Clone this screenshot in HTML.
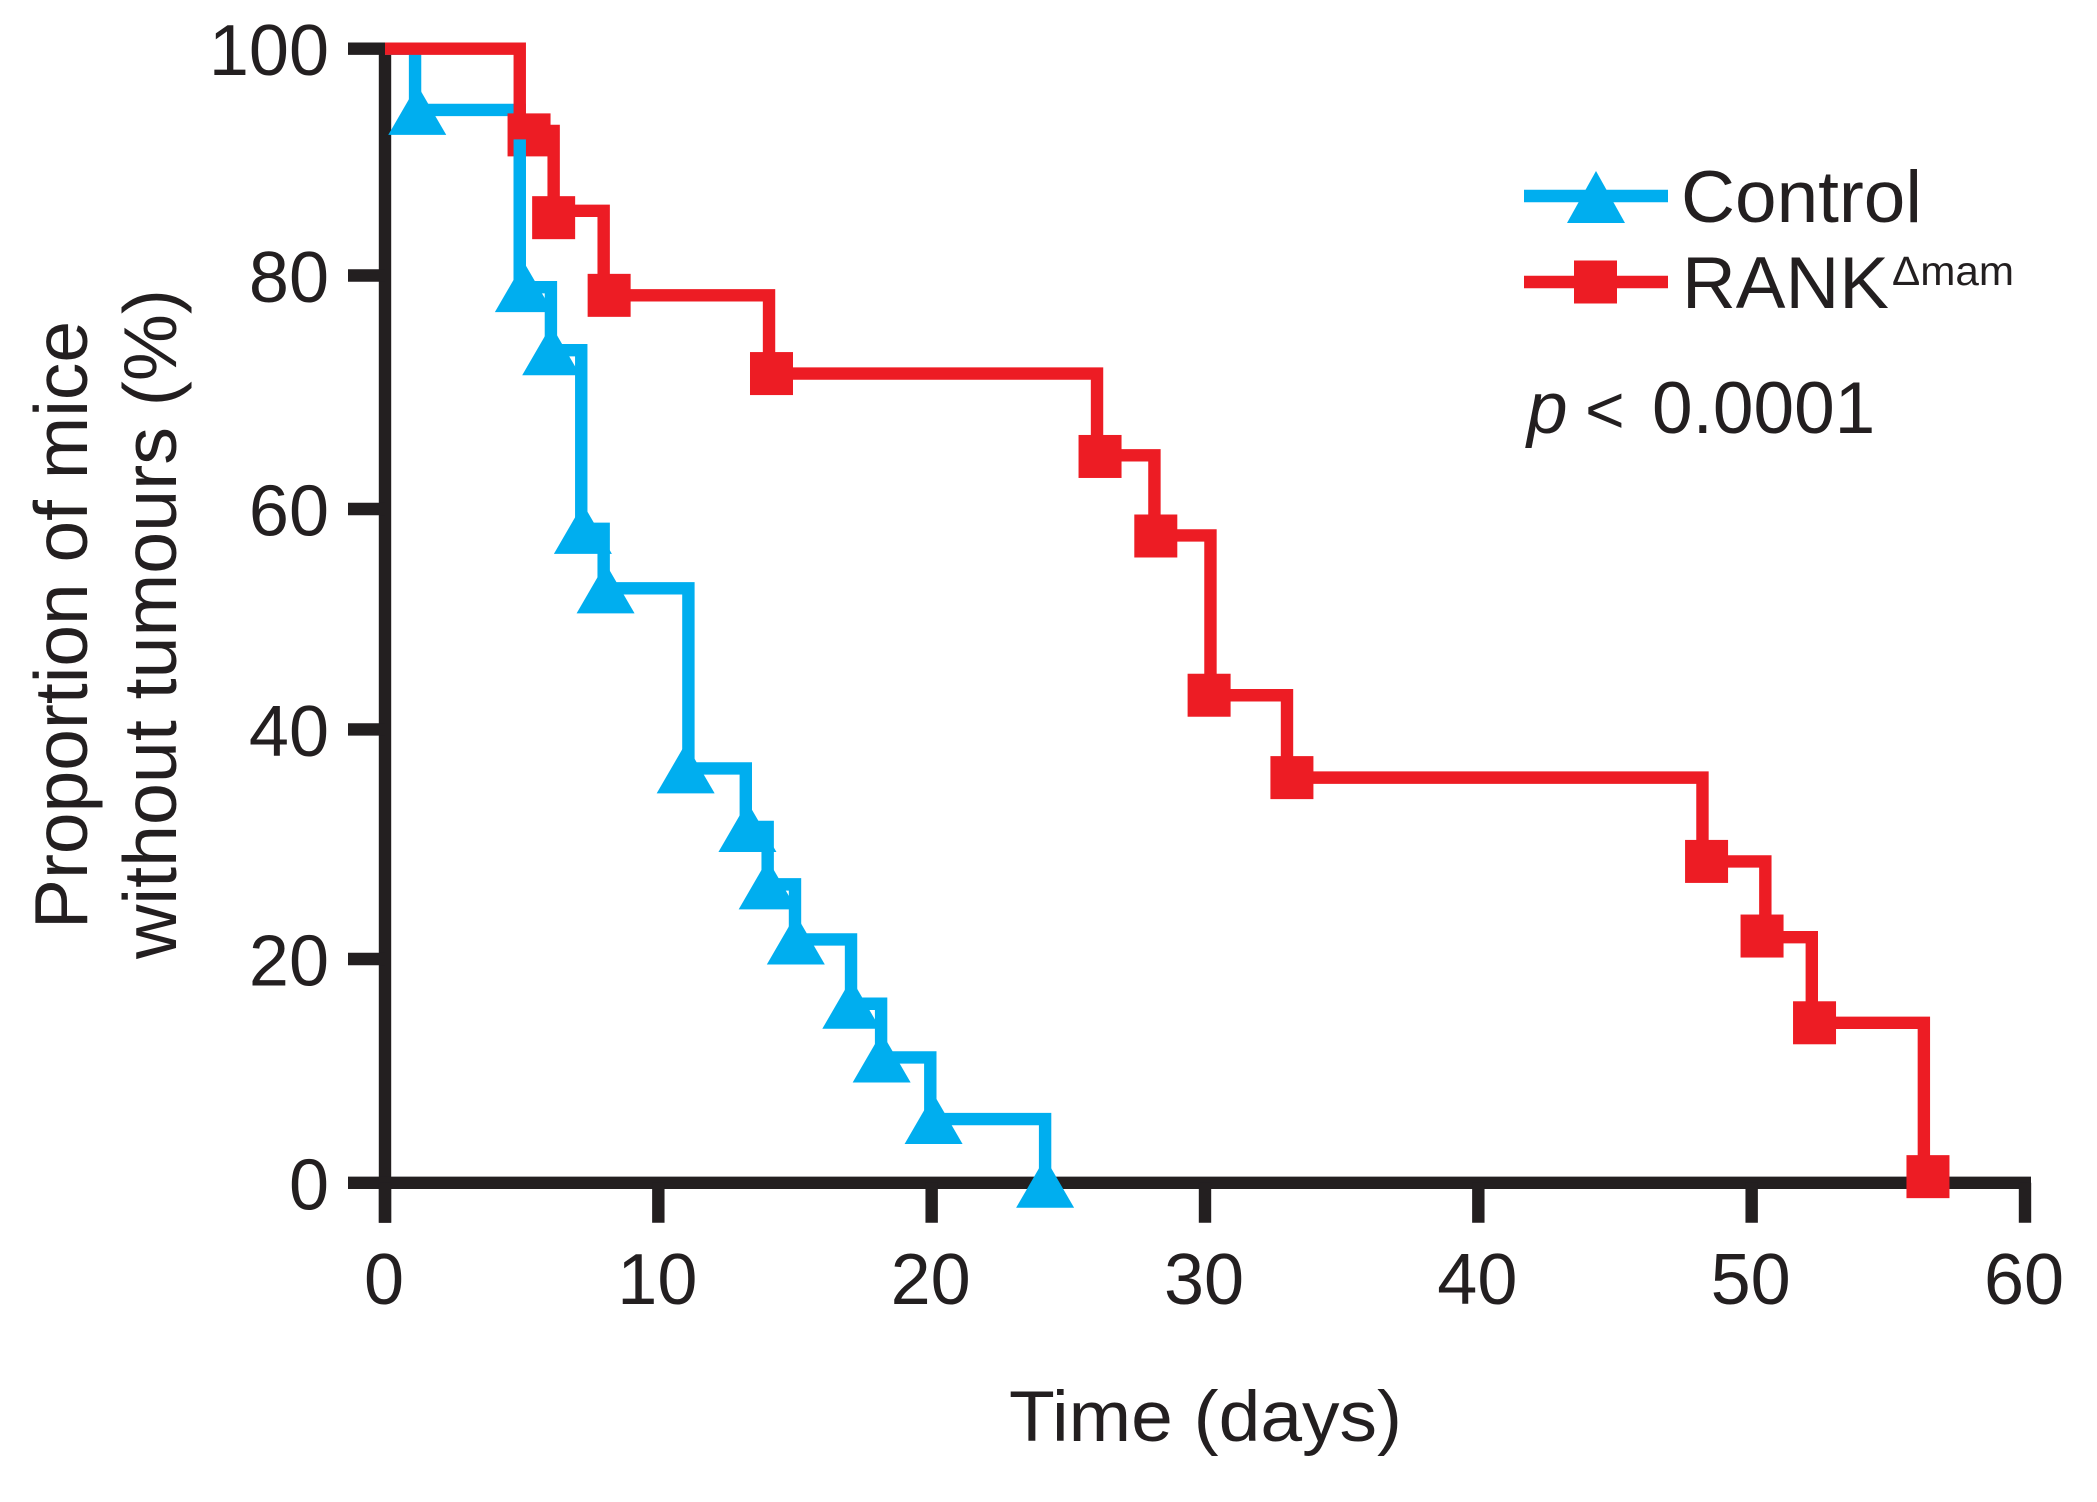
<!DOCTYPE html>
<html lang="en">
<head>
<meta charset="utf-8">
<title>Proportion of mice without tumours over time</title>
<style>
html,body{margin:0;padding:0;background:#fff;}
svg{display:block;}
text{font-family:"Liberation Sans",Arial,sans-serif;fill:#231f20;}
</style>
</head>
<body>
<svg id="chart" xmlns="http://www.w3.org/2000/svg" width="2097" height="1502" viewBox="0 0 2097 1502">
  <rect x="0" y="0" width="2097" height="1502" fill="#ffffff"/>
  <g id="axes"></g>
  <g id="series"></g>
  <text x="1009" y="1441" font-size="71" textLength="393" lengthAdjust="spacingAndGlyphs">Time (days)</text>
  <text transform="translate(87,929) rotate(-90)" font-size="75" textLength="608" lengthAdjust="spacingAndGlyphs">Proportion of mice</text>
  <text transform="translate(176,959) rotate(-90)" font-size="75" textLength="670" lengthAdjust="spacingAndGlyphs">without tumours (%)</text>
  <g>
    <g>
      <line x1="1524" x2="1668" y1="196" y2="196" stroke="#00aeef" stroke-width="12.4"/>
      <polygon points="1596,171 1625,223 1567,223" fill="#00aeef"/>
      <text x="1681" y="222" font-size="73" textLength="241" lengthAdjust="spacingAndGlyphs">Control</text>
    </g>
    <g>
      <line x1="1524" x2="1668" y1="282" y2="282" stroke="#ed1c24" stroke-width="12.4"/>
      <rect x="1574" y="260.5" width="43" height="43" fill="#ed1c24"/>
      <text x="1682" y="308" font-size="73" textLength="207" lengthAdjust="spacingAndGlyphs">RANK</text>
      <text x="1892" y="285" font-size="41" textLength="122" lengthAdjust="spacingAndGlyphs">Δmam</text>
    </g>
  </g>
  <text y="433" font-size="73"><tspan x="1527" font-style="italic">p</tspan><tspan x="1585" font-size="68">&lt;</tspan><tspan x="1652">0.0001</tspan></text>
</svg>
<script>
const xTickLabels = [0, 10, 20, 30, 40, 50, 60];
const yTickLabels = [0, 20, 40, 60, 80, 100];

const controlStepDays = [1.1, 4.93, 6.07, 7.18, 8.0, 11.1, 13.2, 14.0, 15.0, 17.05, 18.15, 19.95, 24.15];
const controlLevels = [94.6, 79, 73.6, 58.2, 52.8, 36.6, 31.5, 26.5, 21.7, 16, 11.2, 5.7, 0];
const controlMarkerDays = [1.18, 5.08, 6.08, 7.24, 8.07, 11, 13.26, 14, 15.03, 17.06, 18.17, 20.07, 24.15];

const rankStepDays = [4.93, 6.17, 8.0, 14.05, 26.05, 28.15, 30.2, 33.0, 48.2, 50.5, 52.2, 56.3];
const rankLevels = [92.75, 85.7, 78.3, 71.6, 64.6, 57.6, 43.1, 35.8, 28.5, 21.9, 14.3, 0.55];
const rankMarkerDays = [5.27, 6.17, 8.2, 14.14, 26.16, 28.2, 30.15, 33.18, 48.35, 50.38, 52.3, 56.45];
const rankMarkerLevels = [92.4, 85.1, 78.3, 71.6, 64.5, 57.55, 43.1, 35.8, 28.5, 22, 14.3, 0.55];

const controlOverRankTop = 92;

const NS = 'http://www.w3.org/2000/svg';
const axesGroup = document.getElementById('axes');
const seriesGroup = document.getElementById('series');

function xScale(day) { return 385 + day * (2025 - 385) / 60; }

// The printed axis is slightly uneven, so the scale runs through each drawn tick.
function yScale(pct) {
  const segmentPct = 20;
  const tickRows = [1182.8, 959, 729.4, 509, 275.5, 48.7];
  const clamped = Math.max(0, Math.min(100, pct));
  const i = Math.min(4, Math.floor(clamped / segmentPct));
  return tickRows[i] + (clamped - i * segmentPct) / segmentPct * (tickRows[i + 1] - tickRows[i]);
}

function make(tag, parent, attrs) {
  const el = document.createElementNS(NS, tag);
  for (const k in attrs) el.setAttribute(k, attrs[k]);
  parent.appendChild(el);
  return el;
}

function stepPath(days, levels) {
  let d = 'M' + xScale(0) + ' ' + yScale(100);
  days.forEach(function (day, i) {
    d += ' H' + xScale(day) + ' V' + yScale(levels[i]);
  });
  return d;
}

const black = '#231f20';
const blue = '#00aeef';
const red = '#ed1c24';
const lineWidth = 12.4;

const yAxisLine = make('line', axesGroup, {x1: xScale(0), x2: xScale(0), y1: yScale(100), y2: 1222.7, stroke: black, 'stroke-width': lineWidth});



const xAxisLine = make('line', axesGroup, {x1: xScale(0), x2: xScale(60) + 6, y1: yScale(0), y2: yScale(0), stroke: black, 'stroke-width': lineWidth});



yTickLabels.forEach(function (v) {
  const tick = make('line', axesGroup, {x1: 348, x2: xScale(0), y1: yScale(v), y2: yScale(v), stroke: black, 'stroke-width': lineWidth});
  
  
  const label = make('text', axesGroup, {x: 329, y: yScale(v) + 26.5, 'font-size': 72, 'text-anchor': 'end'});
  label.textContent = String(v);
  
  
});

xTickLabels.forEach(function (v) {
  const tick = make('line', axesGroup, {x1: xScale(v), x2: xScale(v), y1: yScale(0), y2: 1222.7, stroke: black, 'stroke-width': lineWidth});
  
  
  const label = make('text', axesGroup, {x: xScale(v) - 1, y: 1304, 'font-size': 72, 'text-anchor': 'middle'});
  label.textContent = String(v);
  
  
});

const controlLine = make('path', seriesGroup, {d: stepPath(controlStepDays, controlLevels), fill: 'none', stroke: blue, 'stroke-width': lineWidth, 'stroke-linejoin': 'miter'});



controlMarkerDays.forEach(function (day, i) {
  const cx = xScale(day);
  const cy = yScale(controlLevels[i]);
  const tri = make('polygon', seriesGroup, {points: cx + ',' + (cy - 25) + ' ' + (cx + 29) + ',' + (cy + 25) + ' ' + (cx - 29) + ',' + (cy + 25), fill: blue});
  
  
});

const rankLine = make('path', seriesGroup, {d: stepPath(rankStepDays, rankLevels), fill: 'none', stroke: red, 'stroke-width': lineWidth, 'stroke-linejoin': 'miter'});



rankMarkerDays.forEach(function (day, i) {
  const cx = xScale(day);
  const cy = yScale(rankMarkerLevels[i]);
  const sq = make('rect', seriesGroup, {x: cx - 21.5, y: cy - 21.5, width: 43, height: 43, fill: red});
  
  
});

const controlOverlap = make('line', seriesGroup, {x1: xScale(controlStepDays[1]), x2: xScale(controlStepDays[1]), y1: yScale(controlOverRankTop), y2: yScale(controlLevels[1]), stroke: blue, 'stroke-width': lineWidth});


</script>
</body>
</html>
